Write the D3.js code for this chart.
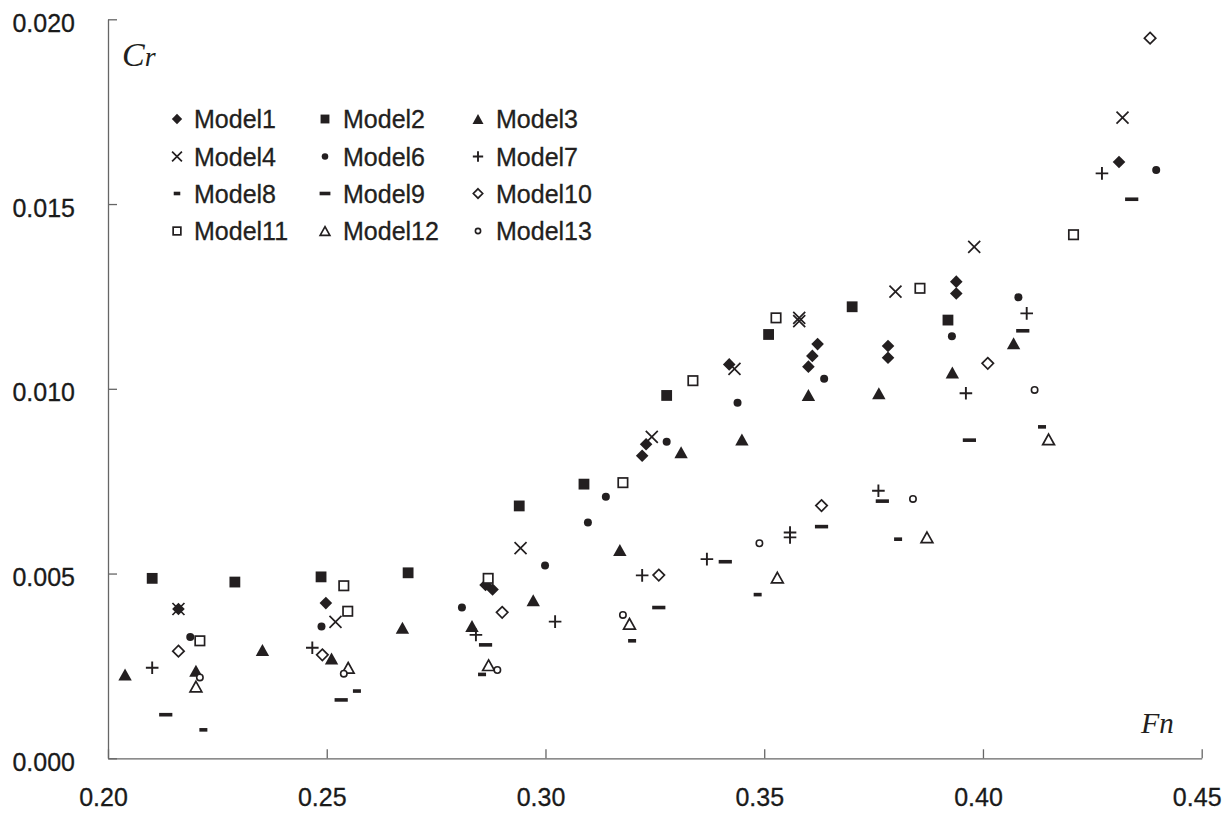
<!DOCTYPE html>
<html><head><meta charset="utf-8">
<script src="https://cdn.jsdelivr.net/npm/d3@7"></script>
<style>body{margin:0;background:#fff}</style>
</head><body>
<svg id="chart" width="1229" height="814"></svg>
<script>
// ---- data (Fn, Cr) ----
const xTicks = [0.20, 0.25, 0.30, 0.35, 0.40, 0.45];
const yTicks = [0.000, 0.005, 0.010, 0.015, 0.020];

const model1 = [[0.2161,0.00404],[0.2498,0.00420],[0.2863,0.00469],[0.2879,0.00457],[0.3221,0.00819],[0.3230,0.00850],[0.3420,0.01066],[0.3601,0.01060],[0.3610,0.01089],[0.3622,0.01121],[0.3783,0.01116],[0.3783,0.01084],[0.3939,0.01290],[0.3939,0.01258],[0.4311,0.01614]];
const model2 = [[0.2101,0.00487],[0.2290,0.00477],[0.2487,0.00491],[0.2686,0.00502],[0.2940,0.00683],[0.3088,0.00742],[0.3277,0.00982],[0.3510,0.01147],[0.3701,0.01222],[0.3920,0.01186]];
const model3 = [[0.2039,0.00227],[0.2201,0.00237],[0.2353,0.00293],[0.2511,0.00270],[0.2673,0.00353],[0.2832,0.00358],[0.2972,0.00428],[0.3170,0.00564],[0.3310,0.00828],[0.3449,0.00863],[0.3601,0.00983],[0.3762,0.00988],[0.3930,0.01044],[0.4070,0.01123]];
const model4 = [[0.2161,0.00404],[0.2520,0.00369],[0.2943,0.00569],[0.3243,0.00870],[0.3432,0.01054],[0.3580,0.01192],[0.3580,0.01183],[0.3800,0.01263],[0.3980,0.01384],[0.4319,0.01734]];
const model6 = [[0.2188,0.00328],[0.2488,0.00357],[0.2809,0.00408],[0.2999,0.00522],[0.3097,0.00638],[0.3138,0.00708],[0.3277,0.00857],[0.3439,0.00962],[0.3637,0.01027],[0.3929,0.01142],[0.4081,0.01248],[0.4396,0.01592]];
const model7 = [[0.2101,0.00245],[0.2467,0.00299],[0.2841,0.00334],[0.3022,0.00370],[0.3221,0.00495],[0.3369,0.00539],[0.3559,0.00611],[0.3559,0.00598],[0.3761,0.00724],[0.3961,0.00988],[0.4100,0.01204],[0.4272,0.01583]];
const model8 = [[0.2218,0.00077],[0.2569,0.00182],[0.2855,0.00227],[0.3198,0.00318],[0.3485,0.00443],[0.3806,0.00593],[0.4135,0.00897]];
const model9 = [[0.2132,0.00118],[0.2533,0.00158],[0.2863,0.00307],[0.3259,0.00408],[0.3411,0.00532],[0.3631,0.00627],[0.3770,0.00696],[0.3969,0.00861],[0.4091,0.01157],[0.4340,0.01513]];
const model10 = [[0.2161,0.00290],[0.2490,0.00280],[0.2901,0.00395],[0.3259,0.00496],[0.3631,0.00684],[0.4011,0.01069],[0.4382,0.01949]];
const model11 = [[0.2210,0.00318],[0.2539,0.00467],[0.2548,0.00398],[0.2869,0.00487],[0.3177,0.00746],[0.3337,0.01022],[0.3527,0.01192],[0.3856,0.01272],[0.4207,0.01417]];
const model12 = [[0.2201,0.00194],[0.2549,0.00245],[0.2870,0.00252],[0.3192,0.00364],[0.3530,0.00489],[0.3872,0.00598],[0.4150,0.00863]];
const model13 = [[0.2210,0.00219],[0.2539,0.00229],[0.2890,0.00239],[0.3177,0.00388],[0.3489,0.00582],[0.3840,0.00702],[0.4118,0.00997]];

const seriesNames = ["Model1","Model2","Model3","Model4","Model6","Model7","Model8","Model9","Model10","Model11","Model12","Model13"];
const seriesData = [model1,model2,model3,model4,model6,model7,model8,model9,model10,model11,model12,model13];
const seriesShapes = ["diamondF","squareF","triangleF","cross","dot","plus","dashS","dashL","diamondO","squareO","triangleO","circleO"];

// ---- layout ----
const INK = "#231f20";
const svg = d3.select("#chart");
const x = d3.scaleLinear().domain([0.20, 0.45]).range([108, 1201.7]);
const y = d3.scaleLinear().domain([0, 0.020]).range([758.3, 19.3]);

// axes
const xAxis = d3.axisBottom(x).tickValues(xTicks).tickFormat(d3.format(".2f"))
  .tickSizeInner(-9).tickSizeOuter(0).tickPadding(30);
const gx = svg.append("g").attr("transform", "translate(0,758.3)").call(xAxis);
const yAxis = d3.axisLeft(y).tickValues(yTicks).tickFormat(d3.format(".3f"))
  .tickSizeInner(-9).tickSizeOuter(0).tickPadding(33);
const gy = svg.append("g").attr("transform", "translate(108,0)").call(yAxis);
[gx, gy].forEach(g => {
  g.select(".domain").attr("stroke", "#666").attr("stroke-width", 1.3);
  g.selectAll(".tick line").attr("stroke", "#666").attr("stroke-width", 1.3);
  g.selectAll(".tick text").attr("fill", "#1a1a1a")
    .style("font-family", "'Liberation Sans', Arial, sans-serif").style("font-size", "25px")
    .attr("stroke", "#1a1a1a").attr("stroke-width", 0.3);
});
gx.selectAll(".tick text").attr("dx", -5);
gy.selectAll(".tick text").attr("dy", "0.48em");

// axis titles
const t1 = svg.append("text").attr("x", 122).attr("y", 66)
  .style("font-family", "'Liberation Serif', 'Times New Roman', serif").style("font-style", "italic").attr("fill", INK);
t1.append("tspan").style("font-size", "34px").text("C");
t1.append("tspan").style("font-size", "28px").text("r");
const t2 = svg.append("text").attr("x", 1141).attr("y", 733)
  .style("font-family", "'Liberation Serif', 'Times New Roman', serif").style("font-style", "italic").attr("fill", INK);
t2.append("tspan").style("font-size", "30px").text("F");
t2.append("tspan").style("font-size", "29px").text("n");

// marker drawing
function drawMarker(g, shape, k) {
  const sw = 1.7;
  switch (shape) {
    case "diamondF": { const h = 6.3*k; g.append("path").attr("d", `M0,${-h}L${h},0L0,${h}L${-h},0Z`).attr("fill", INK); break; }
    case "squareF": { const h = 5.4*k; g.append("rect").attr("x",-h).attr("y",-h).attr("width",2*h).attr("height",2*h).attr("fill", INK); break; }
    case "triangleF": { const w = 6.7*k, h = 6*k; g.append("path").attr("d", `M0,${-h}L${w},${h}L${-w},${h}Z`).attr("fill", INK); break; }
    case "cross": { const h = 6*k; g.append("path").attr("d", `M${-h},${-h}L${h},${h}M${-h},${h}L${h},${-h}`).attr("stroke", INK).attr("stroke-width", sw).attr("fill","none"); break; }
    case "dot": { g.append("circle").attr("r", 4*k).attr("fill", INK); break; }
    case "plus": { const h = 6.3*k; g.append("path").attr("d", `M${-h},0L${h},0M0,${-h}L0,${h}`).attr("stroke", INK).attr("stroke-width", 1.9).attr("fill","none"); break; }
    case "dashS": { const w = 4*k; g.append("rect").attr("x",-w).attr("y",-1.8).attr("width",2*w).attr("height",3.6).attr("fill", INK); break; }
    case "dashL": { const w = 6.6*k; g.append("rect").attr("x",-w).attr("y",-1.8).attr("width",2*w).attr("height",3.6).attr("fill", INK); break; }
    case "diamondO": { const h = 5.7*k; g.append("path").attr("d", `M0,${-h}L${h},0L0,${h}L${-h},0Z`).attr("fill", "#fff").attr("stroke", INK).attr("stroke-width", sw); break; }
    case "squareO": { const h = 4.7*k; g.append("rect").attr("x",-h).attr("y",-h).attr("width",2*h).attr("height",2*h).attr("fill", "#fff").attr("stroke", INK).attr("stroke-width", sw); break; }
    case "triangleO": { const w = 5.9*k, h = 5.3*k; g.append("path").attr("d", `M0,${-h}L${w},${h}L${-w},${h}Z`).attr("fill", "#fff").attr("stroke", INK).attr("stroke-width", sw); break; }
    case "circleO": { g.append("circle").attr("r", 3.2*k).attr("fill", "#fff").attr("stroke", INK).attr("stroke-width", 1.6); break; }
  }
}

// points
seriesData.forEach((data, i) => {
  const grp = svg.append("g").attr("class", "series " + seriesNames[i]);
  grp.selectAll("g.pt").data(data).join("g").attr("class", "pt")
    .attr("transform", d => `translate(${x(d[0])},${y(d[1])})`)
    .each(function() { drawMarker(d3.select(this), seriesShapes[i], 1); });
});

// legend
const legMarkX = [177, 325, 478], legTextX = [194, 343, 496], legRowY = [119, 156.5, 193.5, 231];
const leg = svg.append("g");
seriesNames.forEach((name, i) => {
  const c = i % 3, r = Math.floor(i / 3);
  const m = leg.append("g").attr("transform", `translate(${legMarkX[c]},${legRowY[r]})`);
  drawMarker(m, seriesShapes[i], 0.82);
  leg.append("text").attr("x", legTextX[c]).attr("y", legRowY[r] + 9).attr("fill", INK)
    .attr("stroke", INK).attr("stroke-width", 0.3)
    .style("font-family", "'Liberation Sans', Arial, sans-serif").style("font-size", "25px").text(name);
});
</script>
</body></html>
